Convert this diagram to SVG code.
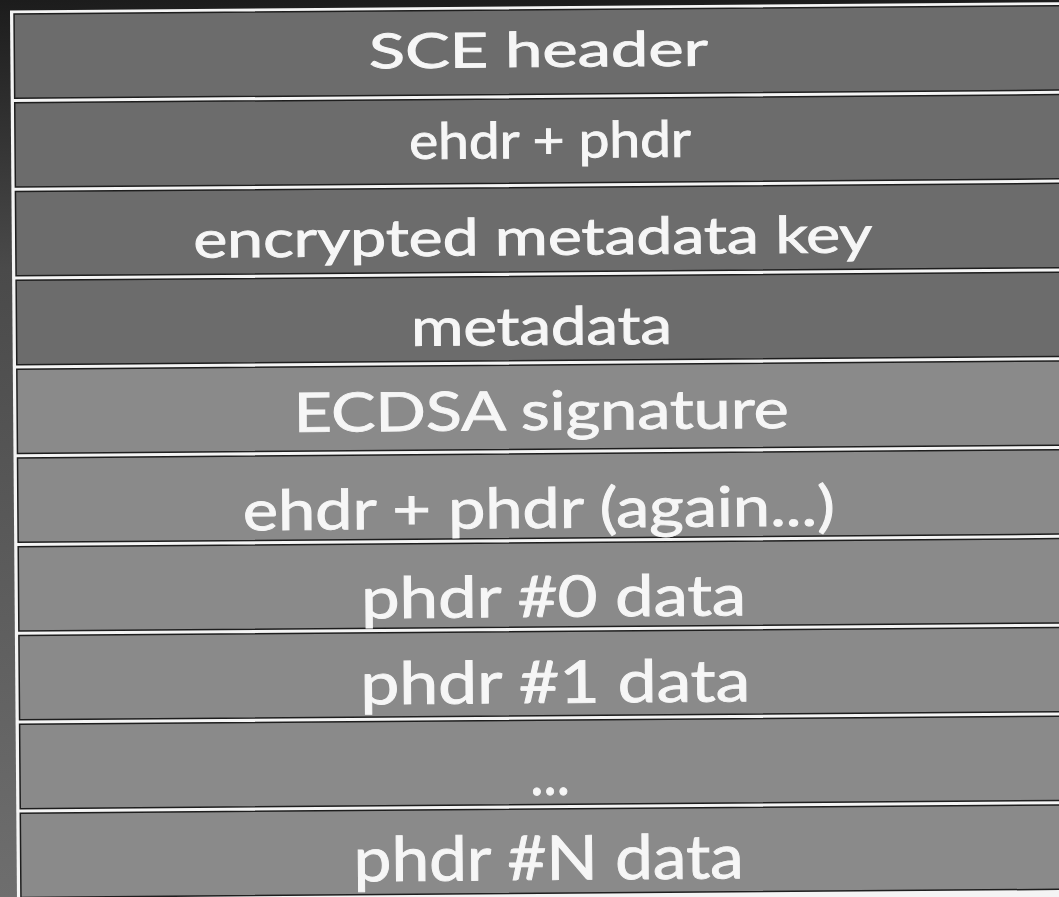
<svg xmlns="http://www.w3.org/2000/svg" width="1059" height="897" viewBox="0 0 1059 897">
  <defs>
    <linearGradient id="bg" x1="0" y1="0" x2="0" y2="1">
      <stop offset="0" stop-color="#1c1c1c"/>
      <stop offset="0.3" stop-color="#4a4a4a"/>
      <stop offset="1" stop-color="#6e6e6e"/>
    </linearGradient>
    <style>
      .dark { fill: #6c6c6c; stroke: #1e1e1e; stroke-width: 1.5; }
      .light { fill: #8a8a8a; stroke: #1e1e1e; stroke-width: 1.5; }
      .lbl { font-family: Lato, "Open Sans", "Liberation Sans", sans-serif; fill: #f6f6f6; stroke: #f6f6f6; stroke-width: 0.9; text-anchor: middle; }
    </style>
  </defs>
  <rect x="0" y="0" width="1059" height="897" fill="url(#bg)"/>
  <g transform="rotate(-0.45 10 12)">
    <rect x="10" y="10.5" width="1100" height="920" fill="#f4f4f4"/>
    <g id="row-sce-header">
      <rect class="dark" x="14" y="14" width="1100" height="84.3"/>
      <text class="lbl" x="538" y="71" font-size="48" textLength="339" lengthAdjust="spacingAndGlyphs">SCE header</text>
    </g>
    <g id="row-ehdr-phdr">
      <rect class="dark" x="14" y="102.8" width="1100" height="84.3"/>
      <text class="lbl" x="549" y="162" font-size="50" textLength="282" lengthAdjust="spacingAndGlyphs">ehdr + phdr</text>
    </g>
    <g id="row-enc-key">
      <rect class="dark" x="14" y="191.6" width="1100" height="84.3"/>
      <text class="lbl" x="531" y="259" font-size="51" textLength="679" lengthAdjust="spacingAndGlyphs">encrypted metadata key</text>
    </g>
    <g id="row-metadata">
      <rect class="dark" x="14" y="280.4" width="1100" height="84.3"/>
      <text class="lbl" x="539" y="349" font-size="52.5" textLength="261" lengthAdjust="spacingAndGlyphs">metadata</text>
    </g>
    <g id="row-ecdsa">
      <rect class="light" x="14" y="369.2" width="1100" height="84.3"/>
      <text class="lbl" x="538" y="434" font-size="54" textLength="495" lengthAdjust="spacingAndGlyphs">ECDSA signature</text>
    </g>
    <g id="row-ehdr-phdr-again">
      <rect class="light" x="14" y="458" width="1100" height="84.3"/>
      <text class="lbl" x="535" y="532" font-size="55.5" textLength="592" lengthAdjust="spacingAndGlyphs">ehdr + phdr (again...)</text>
    </g>
    <g id="row-phdr0">
      <rect class="light" x="14" y="546.8" width="1100" height="84.3"/>
      <text class="lbl" x="549" y="621" font-size="57" textLength="385" lengthAdjust="spacingAndGlyphs">phdr #0 data</text>
    </g>
    <g id="row-phdr1">
      <rect class="light" x="14" y="635.6" width="1100" height="84.3"/>
      <text class="lbl" x="550" y="707" font-size="58.5" textLength="390" lengthAdjust="spacingAndGlyphs">phdr #1 data</text>
    </g>
    <g id="row-ellipsis">
      <rect class="light" x="14" y="724.4" width="1100" height="84.3"/>
      <text class="lbl" x="544" y="799" font-size="60" textLength="40" lengthAdjust="spacingAndGlyphs">...</text>
    </g>
    <g id="row-phdrN">
      <rect class="light" x="14" y="813.2" width="1100" height="84.3"/>
      <text class="lbl" x="542" y="884" font-size="61.5" textLength="390" lengthAdjust="spacingAndGlyphs">phdr #N data</text>
    </g>
  </g>
  <g id="connectors"/>
</svg>
